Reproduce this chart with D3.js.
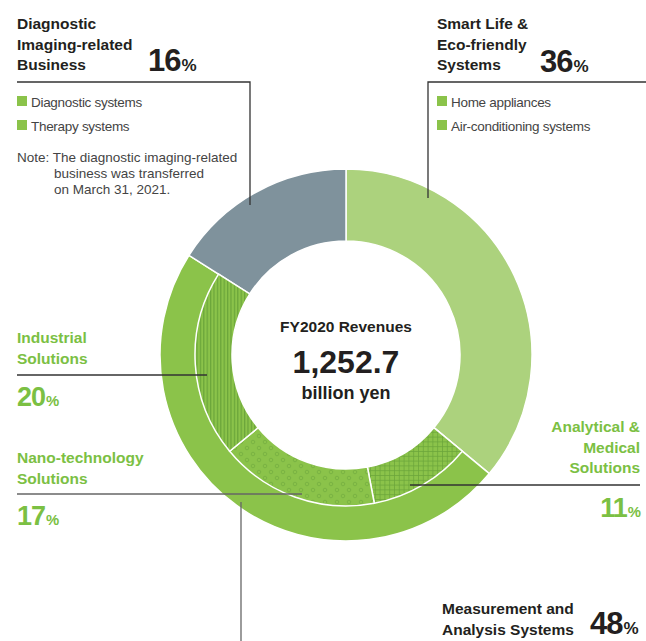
<!DOCTYPE html>
<html>
<head>
<meta charset="utf-8">
<script src="https://cdn.jsdelivr.net/npm/d3@7"></script>
<style>
  body { margin: 0; background: #fff; }
  svg { display: block; font-family: "Liberation Sans", Arial, sans-serif; }
</style>
</head>
<body>
<div id="chart"></div>
<script>
// segment data (share of FY2020 revenues, %)
var segments = ["Smart Life & Eco-friendly Systems", "Measurement and Analysis Systems", "Diagnostic Imaging-related Business"];
var shares = [36, 48, 16];
var segColors = ["#acd27d", "#8bc34a", "#7f929c"];

// breakdown of Measurement and Analysis Systems, clockwise
var subSegments = ["Analytical & Medical Solutions", "Nano-technology Solutions", "Industrial Solutions"];
var subShares = [11, 17, 20];
var subPatterns = ["url(#grid)", "url(#dots)", "url(#stripes)"];

var diagItems = ["Diagnostic systems", "Therapy systems"];
var smartItems = ["Home appliances", "Air-conditioning systems"];
var revenue = "1,252.7";

function init() {
    var width = 646, height = 641;
    var cx = 346, cy = 355;
    var rIn = 114, rMid = 151, rOut = 186;
    var green = "#7bc043", ink = "#231f20";

    var svg = d3.select("#chart").append("svg")
        .attr("width", width)
        .attr("height", height);

    var defs = svg.append("defs");

    var st = defs.append("pattern").attr("id", "stripes")
        .attr("patternUnits", "userSpaceOnUse").attr("width", 3.4).attr("height", 10);
    st.append("rect").attr("width", 3.4).attr("height", 10).attr("fill", "#8bc34a");
    st.append("rect").attr("width", 1.2).attr("height", 10).attr("fill", "#6aa53a");

    var dt = defs.append("pattern").attr("id", "dots")
        .attr("patternUnits", "userSpaceOnUse").attr("width", 12).attr("height", 12);
    dt.append("rect").attr("width", 12).attr("height", 12).attr("fill", "#8bc34a");
    dt.append("circle").attr("cx", 3).attr("cy", 3).attr("r", 1.8)
        .attr("fill", "none").attr("stroke", "#73ad3f").attr("stroke-width", 0.8);
    dt.append("circle").attr("cx", 9).attr("cy", 9).attr("r", 1.8)
        .attr("fill", "none").attr("stroke", "#73ad3f").attr("stroke-width", 0.8);

    var gr = defs.append("pattern").attr("id", "grid")
        .attr("patternUnits", "userSpaceOnUse").attr("width", 4.8).attr("height", 4.8);
    gr.append("rect").attr("width", 4.8).attr("height", 4.8).attr("fill", "#8bc34a");
    gr.append("path").attr("d", "M0,0.4H4.8M0.4,0V4.8")
        .attr("stroke", "#6aa53a").attr("stroke-width", 0.8).attr("fill", "none");

    var g = svg.append("g").attr("transform", "translate(" + cx + "," + cy + ")");

    var pie = d3.pie().sort(null).value(function (d) { return d; });
    var arcs = pie(shares);

    var arcFull = d3.arc().innerRadius(rIn).outerRadius(rOut);
    g.selectAll("path.seg")
        .data(arcs)
        .enter()
        .append("path")
        .attr("class", "seg")
        .attr("d", arcFull)
        .attr("fill", function (d, i) { return segColors[i]; })
        .attr("stroke", "#fff")
        .attr("stroke-width", 1.5);

    // inner sub ring within the Measurement segment
    var meas = arcs[1];
    var subPie = d3.pie().sort(null).value(function (d) { return d; })
        .startAngle(meas.startAngle).endAngle(meas.endAngle);
    var arcSub = d3.arc().innerRadius(rIn).outerRadius(rMid);
    g.selectAll("path.sub")
        .data(subPie(subShares))
        .enter()
        .append("path")
        .attr("class", "sub")
        .attr("d", arcSub)
        .attr("fill", function (d, i) { return subPatterns[i]; })
        .attr("stroke", "#fff")
        .attr("stroke-width", 1.5);

    // leader lines
    var lines = [
        [[17, 82], [250, 82], [250, 205]],
        [[646, 82], [428, 82], [428, 198]],
        [[17, 375], [207, 375]],
        [[17, 494], [302, 494]],
        [[241, 502], [241, 641]],
        [[640, 485], [410, 485]]
    ];
    svg.selectAll("path.leader")
        .data(lines)
        .enter()
        .append("path")
        .attr("class", "leader")
        .attr("d", d3.line())
        .attr("fill", "none")
        .attr("stroke", function (d, i) { return i === 3 || i === 4 ? "#666" : "#333"; })
        .attr("stroke-width", 1.3);

    function block(x, y, linesTxt, color, anchor, size) {
        var t = svg.append("text")
            .attr("x", x).attr("y", y)
            .attr("fill", color)
            .attr("font-size", size || 15.5)
            .attr("font-weight", "bold")
            .attr("text-anchor", anchor || "start");
        linesTxt.forEach(function (s, i) {
            t.append("tspan").attr("x", x).attr("dy", i === 0 ? 0 : 20.5).text(s);
        });
    }

    function pct(x, y, v, color, anchor, size) {
        var t = svg.append("text")
            .attr("x", x).attr("y", y)
            .attr("fill", color)
            .attr("font-weight", "bold")
            .attr("letter-spacing", -1)
            .attr("text-anchor", anchor || "start");
        t.append("tspan").attr("font-size", size).text(v);
        t.append("tspan").attr("font-size", size * 0.55).attr("dx", 1).text("%");
    }

    // Diagnostic
    block(17, 29, ["Diagnostic", "Imaging-related", "Business"], ink);
    pct(148, 71, shares[2], ink, "start", 31);
    // Smart Life
    block(437, 29, ["Smart Life &", "Eco-friendly", "Systems"], ink);
    pct(540, 72, shares[0], ink, "start", 31);

    function legend(x, items) {
        items.forEach(function (s, i) {
            svg.append("rect").attr("x", x).attr("y", 96 + i * 24)
                .attr("width", 10).attr("height", 10).attr("fill", "#8bc34a");
            svg.append("text").attr("x", x + 14).attr("y", 107 + i * 24)
                .attr("font-size", 13.5).attr("letter-spacing", -0.3)
                .attr("fill", "#444").text(s);
        });
    }
    legend(17, diagItems);
    legend(437, smartItems);

    var note = svg.append("text").attr("font-size", 13.5).attr("fill", "#444");
    note.append("tspan").attr("x", 17).attr("y", 162).text("Note: The diagnostic imaging-related");
    note.append("tspan").attr("x", 54).attr("y", 178).text("business was transferred");
    note.append("tspan").attr("x", 54).attr("y", 194).text("on March 31, 2021.");

    // Industrial / Nano / Analytical
    block(17, 343, ["Industrial", "Solutions"], green);
    pct(17, 406, subShares[2], green, "start", 27);
    block(17, 463, ["Nano-technology", "Solutions"], green);
    pct(17, 525, subShares[1], green, "start", 27);
    block(640, 432, ["Analytical &", "Medical", "Solutions"], green, "end");
    pct(640, 517, subShares[0], green, "end", 27);

    // Measurement
    block(442, 614, ["Measurement and", "Analysis Systems"], ink);
    pct(590, 634, shares[1], ink, "start", 31);

    // centre
    svg.append("text").attr("x", cx).attr("y", 332).attr("text-anchor", "middle")
        .attr("font-size", 15.5).attr("font-weight", "bold").attr("fill", ink).text("FY2020 Revenues");
    svg.append("text").attr("x", cx).attr("y", 373).attr("text-anchor", "middle")
        .attr("font-size", 32).attr("font-weight", "bold").attr("fill", ink).text(revenue);
    svg.append("text").attr("x", cx).attr("y", 399).attr("text-anchor", "middle")
        .attr("font-size", 18).attr("font-weight", "bold").attr("fill", ink).text("billion yen");
}

window.onload = init;
</script>
</body>
</html>
